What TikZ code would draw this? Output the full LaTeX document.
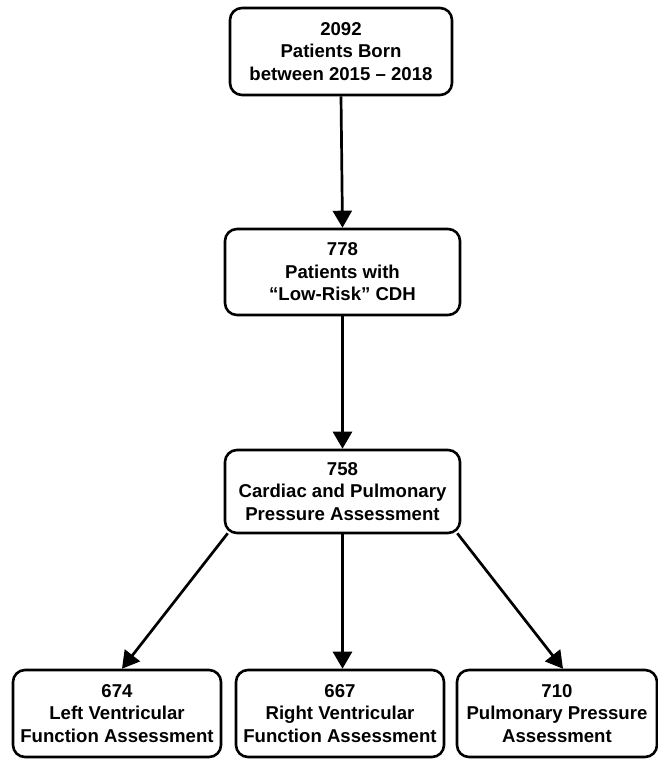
\documentclass[tikz,border=0pt]{standalone}
\usepackage{fontspec}
\setmainfont{Liberation Sans}
\usetikzlibrary{arrows.meta}
\begin{document}
\begin{tikzpicture}[x=1pt,y=1pt,>={Triangle[length=17pt,width=19pt]},
  box/.style={draw,line width=2.6pt,rounded corners=12pt,align=center,inner sep=2pt,
    font=\fontsize{18.6}{22.5}\selectfont\bfseries},
  arr/.style={->,line width=2.7pt}]
 \useasboundingbox (0,0) rectangle (658,-760);
 \node[box,minimum width=222,minimum height=87] (born) at (341,-51.5)
   {2092\\Patients Born\\between 2015 – 2018};
 \node[box,minimum width=235,minimum height=86] (lowrisk) at (342.5,-272)
   {778\\Patients with\\“Low-Risk” CDH};
 \node[box,minimum width=235,minimum height=83] (assess) at (342.5,-491.5)
   {758\\Cardiac and Pulmonary\\Pressure Assessment};
 \node[box,minimum width=208,minimum height=87] (lvf) at (117,-713.5)
   {674\\Left Ventricular\\Function Assessment};
 \node[box,minimum width=208,minimum height=87] (rvf) at (340,-713.5)
   {667\\Right Ventricular\\Function Assessment};
 \node[box,minimum width=200,minimum height=87] (ppa) at (557,-713.5)
   {710\\Pulmonary Pressure\\Assessment};
 \draw[arr] (born.south) -- (lowrisk.north);
 \draw[arr] (lowrisk.south) -- (assess.north);
 \draw[arr] ([xshift=4pt,yshift=1pt]assess.south west) -- ([xshift=5pt]lvf.north);
 \draw[arr] (assess.south) -- (assess.south |- rvf.north);
 \draw[arr] ([xshift=-4pt,yshift=1pt]assess.south east) -- ([xshift=6pt]ppa.north);
\end{tikzpicture}
\end{document}
